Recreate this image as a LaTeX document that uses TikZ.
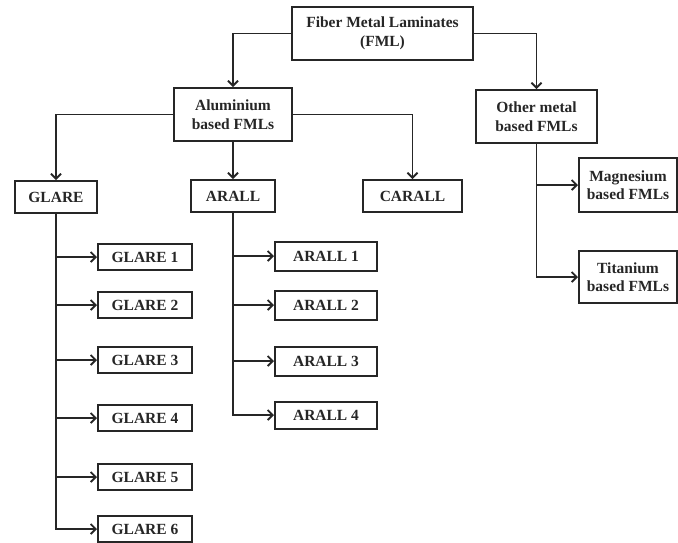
\documentclass[tikz,border=0pt]{standalone}
\usepackage{fontspec}
\setmainfont{Liberation Serif}
\usetikzlibrary{arrows.meta,positioning}

\begin{document}
\begin{tikzpicture}[
    x=1pt, y=-1pt,
    box/.style={draw=black!85, line width=2pt, inner sep=0pt, align=center,
        font=\fontsize{15.5pt}{18.5pt}\selectfont\bfseries, text=black!85},
    bigbox/.style={box, minimum height=53pt},
    subbox/.style={box, minimum height=26pt},
    arrow/.style={-{Straight Barb[length=5pt, width=10pt, line width=1.8pt]}, line width=1.8pt, black!85}
]
\useasboundingbox (0,0) rectangle (678,542);

% === Top level ===
\node[bigbox, minimum width=181pt] (fml) at (382.5,33.5) {Fiber Metal Laminates\\(FML)};
\node[bigbox, minimum width=118pt] (alu) at (233,114.5) {Aluminium\\based FMLs};
\node[bigbox, minimum width=121pt] (other) at (536.5,116.5) {Other metal\\based FMLs};

\draw[arrow] (fml.west) -| (alu.north);
\draw[arrow] (fml.east) -| (other.north);

% === Aluminium based families ===
\node[box, minimum width=82pt, minimum height=32pt] (glare) at (56,197) {GLARE};
\node[box, minimum width=84pt, minimum height=32pt] (arall) at (233,196) {ARALL};
\node[box, minimum width=99pt, minimum height=32pt] (carall) at (412.5,196) {CARALL};

\draw[arrow] (alu.west) -| (glare.north);
\draw[arrow] (alu.south) -- (arall.north);
\draw[arrow] (alu.east) -| (carall.north);

% === GLARE grades ===
\node[subbox, minimum width=94pt] (glare1) at (145,257) {GLARE 1};
\node[subbox, minimum width=94pt] (glare2) at (145,305) {GLARE 2};
\node[subbox, minimum width=94pt] (glare3) at (145,360) {GLARE 3};
\node[subbox, minimum width=94pt] (glare4) at (145,418) {GLARE 4};
\node[subbox, minimum width=94pt] (glare5) at (145,477) {GLARE 5};
\node[subbox, minimum width=94pt] (glare6) at (145,529) {GLARE 6};

\draw[arrow] (glare.south) |- (glare1.west);
\draw[arrow] (glare.south) |- (glare2.west);
\draw[arrow] (glare.south) |- (glare3.west);
\draw[arrow] (glare.south) |- (glare4.west);
\draw[arrow] (glare.south) |- (glare5.west);
\draw[arrow] (glare.south) |- (glare6.west);

% === ARALL grades ===
\node[box, minimum width=102pt, minimum height=29pt] (arall1) at (326,256) {ARALL 1};
\node[box, minimum width=102pt, minimum height=29pt] (arall2) at (326,305) {ARALL 2};
\node[box, minimum width=102pt, minimum height=29pt] (arall3) at (326,361) {ARALL 3};
\node[box, minimum width=102pt, minimum height=27pt] (arall4) at (326,415) {ARALL 4};

\draw[arrow] (arall.south) |- (arall1.west);
\draw[arrow] (arall.south) |- (arall2.west);
\draw[arrow] (arall.south) |- (arall3.west);
\draw[arrow] (arall.south) |- (arall4.west);

% === Other metals ===
\node[box, minimum width=98pt, minimum height=54pt] (mag) at (628,185) {Magnesium\\based FMLs};
\node[box, minimum width=98pt, minimum height=52pt] (tit) at (628,277) {Titanium\\based FMLs};

\draw[arrow] (other.south) |- (mag.west);
\draw[arrow] (other.south) |- (tit.west);

\end{tikzpicture}
\end{document}
